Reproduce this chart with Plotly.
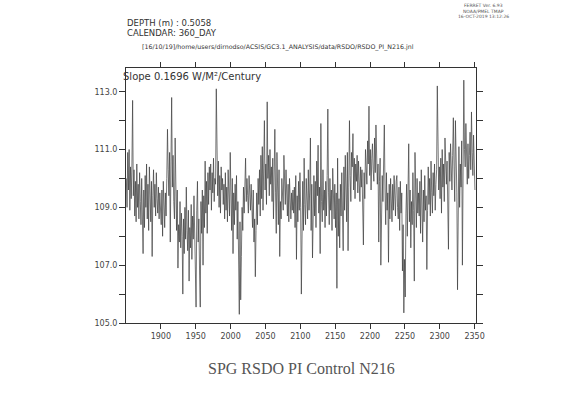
import plotly.graph_objects as go

start_year = 1850.5
rsdo = [
    110.0, 109.0, 110.9, 109.6, 111.0, 108.9, 110.4, 109.3, 110.5, 112.7,
    109.4, 110.3, 108.7, 109.9, 108.5, 110.5, 109.0, 109.8, 108.6, 110.2,
    109.2, 108.4, 110.0, 108.8, 107.4, 109.6, 108.3, 110.1, 109.0, 110.5,
    108.6, 109.8, 108.2, 110.4, 109.1, 108.5, 109.9, 107.3, 109.4, 110.3,
    109.0, 109.8, 108.7, 110.2, 109.3, 108.8, 109.7, 108.6, 109.5, 109.1,
    108.4, 109.6, 108.0, 109.9, 108.9, 108.3, 109.5, 108.7, 110.0, 111.7,
    110.3, 109.4, 110.9, 107.8, 110.6, 112.8, 109.7, 110.8, 109.2, 108.6,
    111.4, 109.0, 108.2, 109.6, 106.9, 108.4, 107.8, 109.2, 107.6, 108.8,
    108.0, 106.0, 108.6, 107.4, 109.0, 107.9, 109.7, 108.2, 107.5, 108.9,
    106.45, 108.3, 107.6, 109.1, 107.2, 108.7, 107.9, 109.4, 108.0, 107.3,
    105.55, 108.9, 109.9, 107.8, 108.6, 106.8, 105.55, 109.2, 108.1, 109.6,
    107.0, 109.4, 108.3, 110.6, 108.8, 109.9, 108.1, 110.2, 109.1, 110.4,
    109.6, 110.5, 108.9, 110.2, 109.5, 110.7, 109.2, 110.0, 109.8, 113.1,
    110.3, 109.4, 110.6, 109.0, 110.1, 108.8, 110.4, 109.6, 110.0, 109.1,
    109.8, 108.6, 110.2, 108.9, 109.7, 108.5, 110.3, 109.2, 108.7, 110.9,
    109.3, 108.2, 110.0, 107.4, 109.5, 108.4, 109.8, 108.9, 110.1, 107.9,
    109.2, 107.6, 105.3, 108.5, 105.8, 107.3, 109.0, 108.2, 109.7, 108.8,
    109.9, 110.7, 109.2, 110.0, 109.4, 108.8, 110.1, 109.5, 108.9, 109.8,
    109.0, 108.3, 109.6, 107.8, 108.6, 106.6, 108.2, 109.5, 108.4, 110.0,
    109.1, 110.3, 108.7, 110.8, 109.3, 111.1, 108.9, 110.5, 112.0, 109.6,
    110.5, 109.1, 112.65, 110.0, 110.8, 109.4, 111.0, 109.8, 110.4, 109.2,
    110.7, 108.6, 110.2, 111.7, 109.5, 108.1, 110.9, 109.0, 108.4, 110.3,
    107.3, 109.2, 108.6, 110.0, 109.4, 108.9, 110.8, 109.7, 109.1, 110.3,
    109.4, 108.7, 109.8, 108.5, 110.0, 109.2, 108.6, 109.5, 108.9, 109.6,
    108.8, 109.7, 108.3, 110.1, 107.2, 109.4, 108.5, 109.9, 108.9, 110.2,
    109.0, 106.0, 108.8, 109.9, 108.2, 110.7, 109.1, 108.4, 110.0, 109.3,
    108.6, 110.3, 108.9, 109.6, 111.4, 108.2, 109.8, 107.25, 109.5, 110.1,
    108.7, 109.9, 108.3, 110.6, 109.4, 111.15, 108.8, 109.7, 107.4, 111.9,
    109.2, 108.5, 110.3, 108.9, 109.6, 108.3, 109.9, 108.7, 110.1, 112.4,
    109.5, 108.4, 110.0, 108.9, 109.6, 108.2, 110.35, 109.1, 108.6, 109.8,
    108.3, 109.5, 106.2, 110.7, 108.0, 109.3, 107.6, 109.8, 108.7, 110.2,
    109.3, 107.5, 110.4, 108.9, 110.8, 109.6, 108.5, 110.9, 107.5, 109.7,
    112.0, 110.1, 109.2, 110.9, 110.4, 111.55, 109.6, 110.7, 109.3, 110.5,
    109.9, 110.8, 109.5, 110.6, 110.0, 109.2, 110.4, 109.7, 110.3, 109.4,
    107.7, 110.2, 109.3, 111.0, 110.4, 109.8, 111.3, 110.5, 112.5, 110.1,
    111.0, 109.6, 110.7, 111.2, 110.3, 109.9, 111.4, 110.2, 111.85, 110.6,
    109.8, 110.5, 107.8, 109.9, 110.7, 107.0, 109.4, 110.1, 109.2, 111.0,
    111.85, 109.6, 108.4, 110.2, 108.9, 109.5, 107.1, 109.8, 108.6, 110.0,
    109.2, 108.5, 109.8, 108.9, 110.1, 109.4, 108.7, 109.9, 110.1, 109.0,
    108.6, 109.7, 108.2, 109.9, 108.8, 109.5, 106.8, 108.4, 105.35, 107.2,
    105.9, 108.8, 109.8, 108.0, 109.3, 111.2, 108.5, 109.6, 107.6, 109.2,
    108.4, 110.2, 108.9, 106.45, 110.9, 109.1, 108.3, 110.0, 108.8, 109.5,
    108.7, 109.9, 108.1, 110.3, 109.2, 107.8, 109.6, 108.5, 110.1, 108.9,
    109.4, 106.85, 108.9, 110.4, 109.1, 110.0, 108.7, 110.6, 109.5, 108.8,
    110.2, 109.4, 110.5, 108.9, 109.8, 110.3, 113.2, 110.1, 109.6, 110.4,
    109.3, 110.7, 108.8, 111.0, 109.7, 110.5, 109.2, 111.4, 110.2, 109.8,
    110.6, 109.4, 107.55, 110.9, 109.9, 111.2, 110.3, 109.6, 110.8, 112.1,
    110.4, 109.2, 112.0, 110.7, 109.5, 106.15, 110.1, 111.1, 109.0, 110.5,
    109.7, 111.3, 107.0, 110.2, 113.4, 111.0, 110.4, 111.9, 110.6, 109.8,
    111.2, 110.0, 110.8, 111.6, 110.3, 112.3, 110.9, 110.1, 111.5, 110.4,
    109.6,
]
years = [start_year + i for i in range(len(rsdo))]

x_ticks = [1900, 1950, 2000, 2050, 2100, 2150, 2200, 2250, 2300, 2350]
y_ticks = [105, 107, 109, 111, 113]
y_tick_labels = ["105.0", "107.0", "109.0", "111.0", "113.0"]

title_text = "SPG RSDO PI Control N216"
slope_text = "Slope 0.1696 W/M²/Century"
header_lines = ["DEPTH (m) : 0.5058", "CALENDAR: 360_DAY"]
path_text = "[16/10/19]/home/users/dirnodso/ACSIS/GC3.1_ANALYSIS/data/RSDO/RSDO_PI_N216.jnl"
ferret_lines = ["FERRET Ver. 6.93", "NOAA/PMEL TMAP", "16-OCT-2019 13:12:26"]

fig = go.Figure()
fig.add_trace(go.Scatter(x=years, y=rsdo, mode="lines",
                         line=dict(color="#3c3c3c", width=0.7),
                         hoverinfo="skip", showlegend=False))

axis_common = dict(showline=True, linecolor="#333", linewidth=1, mirror="allticks",
                   ticks="outside", tickcolor="#333", tickwidth=1, showgrid=False,
                   zeroline=False, tickfont=dict(family="DejaVu Sans", size=8, color="#444"))

fig.update_layout(
    width=561, height=397, autosize=False,
    paper_bgcolor="white", plot_bgcolor="white",
    margin=dict(l=126, r=85, t=68, b=74),
    xaxis=dict(range=[1850, 2352], tickvals=x_ticks, ticklen=5, **axis_common),
    yaxis=dict(range=[105, 113.82], tickvals=y_ticks, ticktext=y_tick_labels, ticklen=6,
               minor=dict(tickvals=[106, 108, 110, 112], ticklen=6, ticks="outside",
                          tickcolor="#333"),
               **axis_common),
)

fig.add_annotation(text=title_text, xref="paper", yref="paper", x=0.5, y=-0.18,
                   xanchor="center", yanchor="middle", showarrow=False,
                   font=dict(family="Liberation Serif", size=16, color="#555"))
fig.add_annotation(text=slope_text, xref="paper", yref="paper", x=-0.015, y=0.995,
                   xanchor="left", yanchor="top", showarrow=False,
                   font=dict(family="DejaVu Sans", size=10, color="#333"))
for i, line in enumerate(header_lines):
    fig.add_annotation(text=line, xref="paper", yref="paper",
                       x=-0.003, y=1.176 - i * 0.039, xanchor="left", yanchor="middle",
                       showarrow=False, font=dict(family="DejaVu Sans", size=8.5, color="#333"))
fig.add_annotation(text=path_text, xref="paper", yref="paper", x=0.435, y=1.082,
                   xanchor="center", yanchor="middle", showarrow=False,
                   font=dict(family="DejaVu Sans", size=6.3, color="#333"))
for i, line in enumerate(ferret_lines):
    fig.add_annotation(text=line, xref="paper", yref="paper", x=1.02, y=1.245 - i * 0.022,
                       xanchor="center", yanchor="middle", showarrow=False,
                       font=dict(family="DejaVu Sans", size=4.5, color="#555"))

fig.write_html("out.html", config={"displayModeBar": False},
               post_script="document.body.style.margin='0';")
